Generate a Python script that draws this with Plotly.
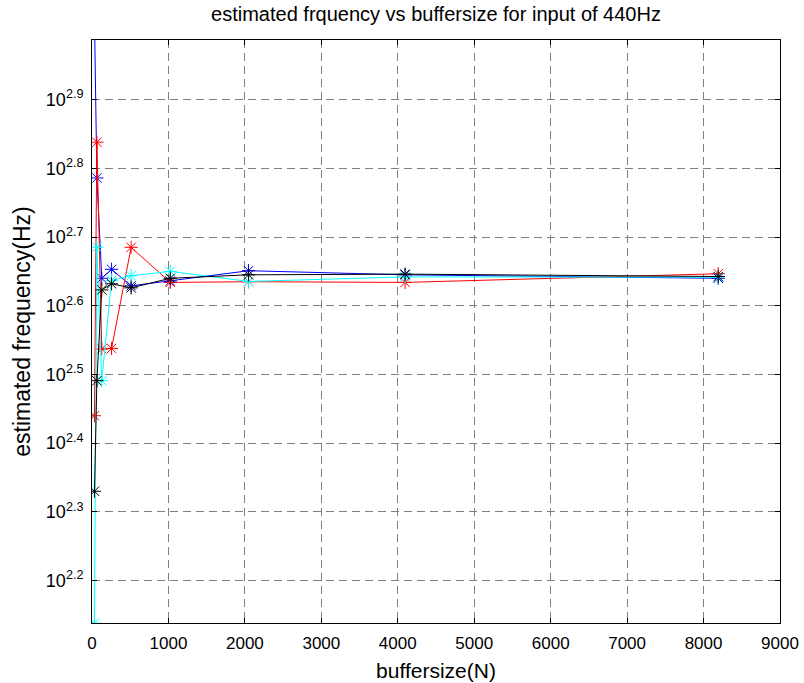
import numpy as np
import plotly.graph_objects as go

# Buffer sizes (samples) and estimated frequencies (Hz) for a 440 Hz input
buffersize = [32, 64, 128, 256, 512, 1024, 2048, 4096, 8192]
est_blue = [1050.0, 610.9, 436.5, 449.8, 425.6, 432.5, 447.7, 441.6, 436.5]
est_red = [275.4, 688.7, 344.4, 345.1, 484.2, 430.5, 431.5, 430.5, 443.2]
est_cyan = [137.5, 484.4, 309.7, 433.5, 440.3, 446.7, 431.9, 438.5, 438.2]
est_black = [213.8, 309.7, 419.8, 428.5, 422.7, 436.5, 441.6, 442.6, 439.1]

x_ticks = [0, 1000, 2000, 3000, 4000, 5000, 6000, 7000, 8000, 9000]
y_exponents = [2.2, 2.3, 2.4, 2.5, 2.6, 2.7, 2.8, 2.9]
y_limits_hz = [137.5, 970.0]

series = [
    (est_blue, "#0000ff"),
    (est_red, "#ff0000"),
    (est_cyan, "#00ffff"),
    (est_black, "#000000"),
]

fig = go.Figure()
for vals, col in series:
    fig.add_trace(go.Scatter(
        x=buffersize, y=vals, mode="lines+markers",
        line=dict(color=col, width=1),
        marker=dict(symbol="asterisk-open", size=11,
                    line=dict(color=col, width=1), color=col),
        showlegend=False, cliponaxis=True,
    ))

font_family = "Liberation Sans, Arial, sans-serif"
grid_style = dict(showgrid=True, gridcolor="#808080", gridwidth=1,
                  griddash="8px,5px")

fig.update_layout(
    width=804, height=683,
    margin=dict(l=92, r=24, t=40, b=60),
    paper_bgcolor="white", plot_bgcolor="white",
    font=dict(family=font_family, size=17, color="black"),
    title=dict(text="estimated frquency vs buffersize for input of 440Hz",
               x=(92 + 780) / 2 / 804, xanchor="center",
               y=1 - 14 / 683, yanchor="middle",
               font=dict(size=20, family=font_family, color="black")),
)

fig.update_xaxes(
    range=[0, 9000], tickvals=x_ticks,
    ticktext=[str(v) for v in x_ticks],
    ticks="inside", ticklen=5, tickcolor="black",
    showline=True, linecolor="black", linewidth=1, mirror="allticks",
    zeroline=False, automargin=False,
    title=dict(text="buffersize(N)", standoff=10,
               font=dict(size=21, family=font_family)),
    tickfont=dict(size=17, family=font_family),
    ticklabelstandoff=5,
    **grid_style,
)

fig.update_yaxes(
    type="log", range=[np.log10(y_limits_hz[0]), np.log10(y_limits_hz[1])],
    tickvals=[10 ** e for e in y_exponents],
    ticktext=["10<sup>%.1f</sup>" % e for e in y_exponents],
    ticks="inside", ticklen=5, tickcolor="black",
    showline=True, linecolor="black", linewidth=1, mirror="allticks",
    zeroline=False, automargin=False,
    title=dict(text="estimated frequency(Hz)", standoff=8,
               font=dict(size=23, family=font_family)),
    tickfont=dict(size=18, family=font_family),
    ticklabelstandoff=4,
    **grid_style,
)

fig.write_html("out.html")
